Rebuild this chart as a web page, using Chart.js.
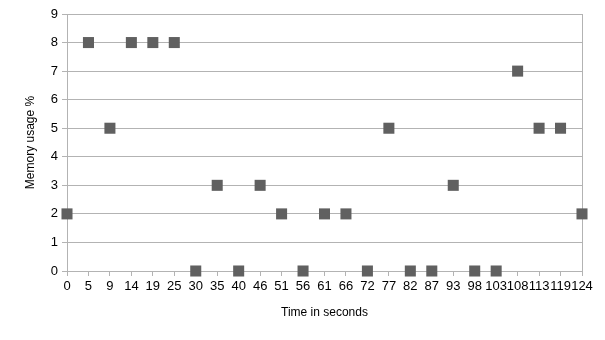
<!DOCTYPE html>
<html>
<head>
<meta charset="utf-8">
<script src="https://cdn.jsdelivr.net/npm/chart.js@4"></script>
<style>
html,body{margin:0;padding:0;background:#fff;}
#wrap{width:605px;height:340px;}
</style>
</head>
<body>
<div id="wrap"><canvas id="c" width="605" height="340"></canvas></div>
<script>
const timeLabels = ["0","5","9","14","19","25","30","35","40","46","51","56","61","66","72","77","82","87","93","98","103","108","113","119","124"];
const memoryUsage = [2,8,5,8,8,8,0,3,0,3,2,0,2,2,0,5,0,0,3,0,0,7,5,5,2];
const yTicks = [0,1,2,3,4,5,6,7,8,9];

const grid = '#b3b3b3';
const lastIdx = timeLabels.length - 1;

new Chart(document.getElementById('c'), {
  type: 'line',
  data: {
    labels: timeLabels,
    datasets: [{
      label: 'Memory usage %',
      data: memoryUsage,
      showLine: false,
      pointStyle: 'rect',
      pointRadius: 7.8,
      pointHoverRadius: 7.8,
      pointBackgroundColor: '#606060',
      pointBorderWidth: 0,
      borderColor: '#606060',
      clip: false
    }]
  },
  options: {
    responsive: false,
    animation: false,
    events: [],
    layout: { padding: { left: 0, right: 23, top: 14, bottom: 0 } },
    plugins: { legend: { display: false }, tooltip: { enabled: false } },
    scales: {
      x: {
        type: 'category',
        offset: false,
        grid: {
          drawOnChartArea: true,
          color: ctx => ctx.index === lastIdx ? grid : 'rgba(0,0,0,0)',
          tickColor: grid,
          tickLength: 5
        },
        border: { display: true, color: grid },
        ticks: {
          autoSkip: false, maxRotation: 0, minRotation: 0,
          color: '#000', padding: 3,
          font: { family: 'Liberation Sans', size: 13 }
        },
        title: {
          display: true, text: 'Time in seconds', color: '#000',
          font: { family: 'Liberation Sans', size: 12 },
          padding: { top: 0, bottom: 20 }
        },
        afterFit: s => { s.height = 69; }
      },
      y: {
        min: 0, max: 9,
        afterBuildTicks: s => { s.ticks = yTicks.map(v => ({ value: v })); },
        grid: { color: grid, tickColor: grid, tickLength: 5 },
        border: { display: true, color: grid },
        ticks: {
          color: '#000', padding: 4,
          font: { family: 'Liberation Sans', size: 13 }
        },
        title: {
          display: true, text: 'Memory usage %', color: '#000',
          font: { family: 'Liberation Sans', size: 12 },
          padding: { top: 23, bottom: 0 }
        },
        afterFit: s => { s.width = 67; }
      }
    }
  }
});
</script>
</body>
</html>
